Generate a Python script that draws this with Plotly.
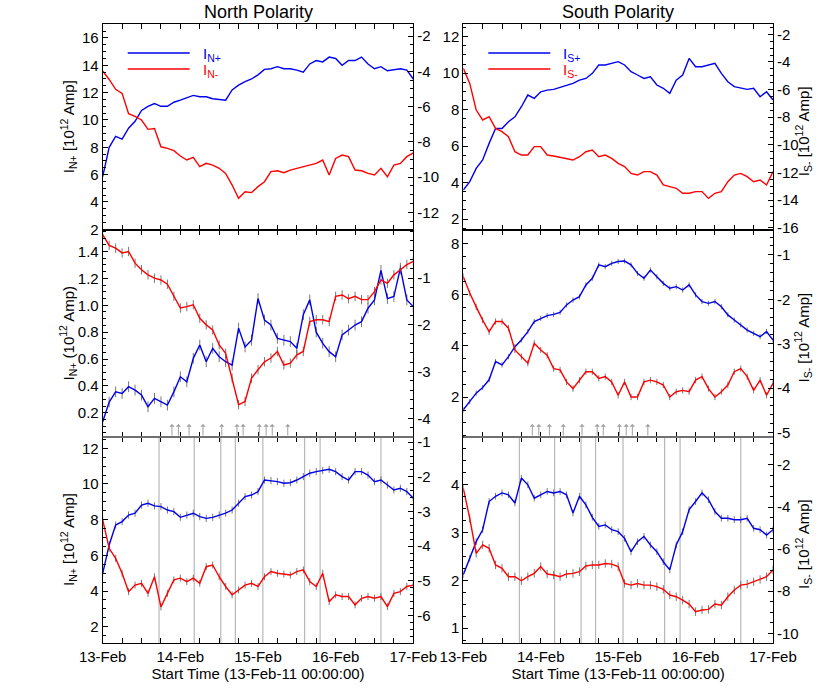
import plotly.graph_objects as go
from datetime import datetime, timedelta

# ---------------- data ----------------
HOURS = list(range(0, 97, 2))
START = datetime(2011, 2, 13)
TIMES = [START + timedelta(hours=h) for h in HOURS]

X_TICK_LABELS = ["13-Feb", "14-Feb", "15-Feb", "16-Feb", "17-Feb"]
X_TICK_DAYS = [0, 1, 2, 3, 4]

# Top row
N_TOP_POS = [5.85, 8.0, 8.8, 8.6, 9.4, 9.9, 10.7, 11.0,
             11.2, 11.0, 11.0, 11.3, 11.45, 11.6, 11.8, 11.7,
             11.7, 11.55, 11.5, 11.45, 12.2, 12.55, 12.8, 13.0,
             13.3, 13.7, 13.75, 13.9, 13.75, 13.75, 13.65, 13.5,
             14.1, 14.35, 14.25, 14.6, 14.5, 14.0, 14.35, 14.35,
             14.6, 14.1, 13.75, 13.9, 13.6, 13.65, 13.75, 13.65,
             13.0]
N_TOP_NEG = [-3.98, -4.46, -5.02, -5.25, -6.4, -6.55, -6.76, -7.29,
             -7.24, -8.28, -8.37, -8.5, -8.8, -9.03, -8.88, -9.41,
             -9.22, -9.32, -9.5, -9.79, -10.45, -11.2, -10.83, -10.88,
             -10.54, -10.26, -9.69, -9.64, -9.75, -9.6, -9.5, -9.41,
             -9.32, -9.22, -9.03, -9.88, -8.94, -8.75, -8.84, -9.6,
             -9.64, -9.79, -9.88, -9.5, -9.98, -9.32, -9.22, -8.84,
             -8.62]
S_TOP_POS = [3.59, 4.05, 4.78, 5.24, 6.15, 6.97, 6.97, 7.34,
             7.61, 8.16, 8.8, 8.62, 8.98, 9.07, 9.11, 9.22,
             9.35, 9.44, 9.62, 9.71, 9.99, 10.45, 10.45, 10.54,
             10.63, 10.45, 10.08, 9.9, 9.71, 9.8, 9.35, 9.17,
             8.89, 9.62, 9.9, 10.81, 10.35, 10.35, 10.45, 10.54,
             9.99, 9.53, 9.26, 9.17, 9.11, 9.17, 8.71, 8.98,
             8.53]
S_TOP_NEG = [-4.46, -5.55, -7.48, -8.2, -7.96, -8.81, -9.05, -9.41,
             -10.5, -10.74, -10.74, -10.13, -10.13, -10.74, -10.81, -10.91,
             -10.98, -11.1, -10.86, -10.5, -10.38, -10.86, -10.74, -10.98,
             -11.34, -11.58, -12.07, -12.19, -11.94, -11.94, -12.19, -12.91,
             -13.03, -13.15, -13.51, -13.51, -13.39, -13.39, -13.88, -13.51,
             -13.39, -12.67, -12.19, -12.07, -12.31, -12.67, -12.55, -12.91,
             -11.94]

# Middle row
N_MID_POS = [0.133, 0.28, 0.356, 0.344, 0.394, 0.369, 0.332, 0.245,
             0.307, 0.282, 0.257, 0.356, 0.468, 0.431, 0.605, 0.704,
             0.58, 0.68, 0.617, 0.58, 0.555, 0.83, 0.69, 0.74,
             1.05, 0.89, 0.853, 0.754, 0.74, 0.73, 0.68, 0.93,
             1.04, 0.80, 0.717, 0.655, 0.617, 0.78, 0.816, 0.853,
             0.878, 0.978, 1.04, 1.26, 1.05, 1.065, 1.276, 1.04,
             0.99]
N_MID_NEG = [-0.07, -0.3, -0.36, -0.46, -0.43, -0.68, -0.82, -0.93,
             -1.0, -1.04, -1.13, -1.39, -1.64, -1.61, -1.57, -1.86,
             -2.0, -2.11, -2.43, -2.61, -3.14, -3.71, -3.64, -3.14,
             -2.96, -2.79, -2.71, -2.57, -2.86, -2.82, -2.64, -2.57,
             -1.93, -1.89, -1.89, -1.93, -1.39, -1.36, -1.44, -1.39,
             -1.46, -1.46, -1.29, -1.04, -1.11, -0.93, -0.82, -0.71,
             -0.64]
S_MID_POS = [1.51, 1.83, 2.16, 2.38, 2.68, 3.39, 3.26, 3.58,
             3.97, 4.23, 4.56, 4.95, 5.08, 5.18, 5.23, 5.31,
             5.6, 5.79, 5.92, 6.38, 6.64, 7.16, 7.09, 7.22,
             7.29, 7.31, 7.16, 6.83, 6.64, 6.96, 6.7, 6.44,
             6.25, 6.31, 6.18, 6.38, 5.99, 5.73, 5.66, 5.73,
             5.53, 5.21, 5.01, 4.82, 4.62, 4.49, 4.36, 4.56,
             4.23]
S_MID_NEG = [-1.49, -1.86, -2.17, -2.47, -2.73, -2.5, -2.5, -2.65,
             -3.14, -3.29, -3.44, -2.99, -3.14, -3.26, -3.56, -3.59,
             -3.86, -4.01, -3.82, -3.63, -3.63, -3.78, -3.74, -3.86,
             -4.16, -3.86, -4.2, -4.2, -3.86, -3.82, -3.86, -3.93,
             -4.2, -4.08, -4.05, -4.08, -3.82, -3.74, -4.01, -4.2,
             -4.08, -3.93, -3.63, -3.56, -3.74, -4.05, -3.82, -4.16,
             -3.89]

# Bottom row
N_BOT_POS = [4.99, 6.58, 7.7, 7.89, 8.26, 8.36, 8.82, 8.92,
             8.77, 8.73, 8.54, 8.45, 8.13, 8.26, 8.36, 8.17,
             8.07, 8.13, 8.26, 8.36, 8.54, 8.92, 9.29, 9.38,
             9.57, 10.22, 10.19, 10.13, 10.04, 10.07, 10.22, 10.41,
             10.6, 10.69, 10.75, 10.82, 10.69, 10.41, 10.22, 10.69,
             10.69, 10.5, 10.13, 10.22, 9.94, 9.66, 9.76, 9.57,
             9.2]
N_BOT_NEG = [-3.24, -4.06, -4.35, -4.78, -5.31, -5.12, -5.07, -5.36,
             -4.88, -5.75, -5.36, -4.97, -4.92, -5.02, -4.92, -5.07,
             -4.59, -4.54, -4.88, -5.16, -5.4, -5.26, -5.12, -5.07,
             -5.16, -4.88, -4.73, -4.78, -4.8, -4.83, -4.73, -4.68,
             -5.02, -5.16, -4.78, -5.6, -5.4, -5.45, -5.45, -5.69,
             -5.5, -5.45, -5.5, -5.45, -5.74, -5.36, -5.31, -5.16,
             -5.12]
S_BOT_POS = [2.12, 2.46, 2.81, 3.06, 3.65, 3.76, 3.83, 3.79,
             3.62, 4.14, 4.0, 3.72, 3.79, 3.86, 3.83, 3.86,
             3.79, 3.41, 3.76, 3.58, 3.32, 3.13, 3.16, 3.06,
             3.02, 2.88, 2.6, 2.81, 2.92, 2.74, 2.6, 2.39,
             2.22, 2.74, 3.02, 3.48, 3.65, 3.83, 3.69, 3.44,
             3.3, 3.3, 3.27, 3.27, 3.3, 3.09, 3.06, 2.95,
             3.06]
S_BOT_NEG = [-3.11, -4.54, -6.2, -5.8, -5.96, -6.75, -6.91, -7.31,
             -7.31, -7.5, -7.31, -7.15, -6.83, -7.18, -7.23, -7.31,
             -7.18, -7.15, -7.07, -6.8, -6.75, -6.75, -6.68, -6.71,
             -6.83, -7.63, -7.71, -7.63, -7.71, -7.71, -7.78, -7.91,
             -8.18, -8.26, -8.42, -8.61, -8.97, -8.89, -8.86, -8.61,
             -8.66, -8.26, -7.94, -7.71, -7.66, -7.55, -7.44, -7.31,
             -6.99]

# Uncertainties (approximate half-lengths of error bars)
ERR_MID_N_POS, ERR_MID_N_NEG = 0.04, 0.1
ERR_MID_S_POS, ERR_MID_S_NEG = 0.1, 0.07
ERR_BOT_N_POS, ERR_BOT_N_NEG = 0.2, 0.1
ERR_BOT_S_POS, ERR_BOT_S_NEG = 0.07, 0.2

# Event markers (hours after start)
EVENT_HOURS = [17.4, 28.3, 36.5, 41.0, 49.5, 62.4, 67.2, 86.0]
ARROW_HOURS = [21.4, 23.4, 26.7, 31.0, 36.8, 41.5, 43.4, 48.4, 50.5, 52.4, 57.2]

# ---------------- layout helpers ----------------
W, H = 822, 694
def fx(p): return p / W
def fy(p): return 1 - p / H

COL_X = [(102.7, 413.3), (463.3, 773.0)]
ROW_Y = [(24.3, 230.0), (230.0, 437.0), (437.0, 643.0)]

BLUE = "#0000ee"
RED = "#ff0000"
FONT = "Liberation Sans, Arial, sans-serif"
FS = 15

panels = [
    dict(pos=N_TOP_POS, neg=N_TOP_NEG, lr=[1.95, 17.0], rr=[-13.0, -1.33],
         lt=[2, 4, 6, 8, 10, 12, 14, 16], rt=[-12, -10, -8, -6, -4, -2],
         lm=0.5, rm=0.5, pe=None, ne=None, fmt="{:g}"),
    dict(pos=S_TOP_POS, neg=S_TOP_NEG, lr=[1.4, 12.68], rr=[-16.17, -1.27],
         lt=[2, 4, 6, 8, 10, 12], rt=[-16, -14, -12, -10, -8, -6, -4, -2],
         lm=0.5, rm=0.5, pe=None, ne=None, fmt="{:g}"),
    dict(pos=N_MID_POS, neg=N_MID_NEG, lr=[0.02, 1.56], rr=[-4.4, 0.03],
         lt=[0.2, 0.4, 0.6, 0.8, 1.0, 1.2, 1.4], rt=[-4, -3, -2, -1],
         lm=0.05, rm=0.2, pe=ERR_MID_N_POS, ne=ERR_MID_N_NEG, fmt="{:.1f}"),
    dict(pos=S_MID_POS, neg=S_MID_NEG, lr=[0.45, 8.52], rr=[-5.1, -0.44],
         lt=[2, 4, 6, 8], rt=[-5, -4, -3, -2, -1],
         lm=0.5, rm=0.2, pe=ERR_MID_S_POS, ne=ERR_MID_S_NEG, fmt="{:g}"),
    dict(pos=N_BOT_POS, neg=N_BOT_NEG, lr=[1.09, 12.63], rr=[-6.79, -0.85],
         lt=[2, 4, 6, 8, 10, 12], rt=[-6, -5, -4, -3, -2, -1],
         lm=0.5, rm=0.2, pe=ERR_BOT_N_POS, ne=ERR_BOT_N_NEG, fmt="{:g}"),
    dict(pos=S_BOT_POS, neg=S_BOT_NEG, lr=[0.69, 5.0], rr=[-10.46, -0.67],
         lt=[1, 2, 3, 4], rt=[-10, -8, -6, -4, -2],
         lm=0.25, rm=0.5, pe=ERR_BOT_S_POS, ne=ERR_BOT_S_NEG, fmt="{:g}"),
]

fig = go.Figure()
layout = {}
shapes = []
annotations = []

x_range = [START, START + timedelta(days=4)]
x_tickvals = [START + timedelta(days=d) for d in X_TICK_DAYS]

def ref(prefix, n):
    return prefix if n == 1 else f"{prefix}{n}"

for k, p in enumerate(panels):
    row, col = divmod(k, 2)
    xn, yl, yr = k + 1, 2 * k + 1, 2 * k + 2
    xref, ylref, yrref = ref("x", xn), ref("y", yl), ref("y", yr)
    xd = [fx(COL_X[col][0]), fx(COL_X[col][1])]
    yd = [fy(ROW_Y[row][1]), fy(ROW_Y[row][0])]

    common_tick = dict(ticks="inside", ticklen=5, tickcolor="black", tickwidth=1,
                       showgrid=False, zeroline=False, showline=True,
                       linecolor="black", linewidth=1, automargin=False,
                       tickfont=dict(family=FONT, size=FS, color="black"))

    xa = dict(domain=xd, anchor=ylref, type="date", range=x_range,
              tickvals=x_tickvals, ticktext=X_TICK_LABELS,
              showticklabels=(row == 2), mirror="allticks",
              minor=dict(ticks="inside", ticklen=3, dtick=6 * 3600 * 1000,
                         tick0=START, tickcolor="black", showgrid=False),
              **common_tick)
    if row == 2:
        xa["title"] = dict(text="Start Time (13-Feb-11 00:00:00)",
                           font=dict(family=FONT, size=FS, color="black"),
                           standoff=0)
    layout["xaxis" if xn == 1 else f"xaxis{xn}"] = xa

    ya = dict(domain=yd, anchor=xref, range=p["lr"], tickvals=p["lt"],
              ticktext=[p["fmt"].format(v) for v in p["lt"]], side="left",
              minor=dict(ticks="inside", ticklen=3, dtick=p["lm"], tick0=0,
                         tickcolor="black", showgrid=False),
              **common_tick)
    layout["yaxis" if yl == 1 else f"yaxis{yl}"] = ya

    yb = dict(overlaying=ylref, anchor=xref, side="right", range=p["rr"],
              tickvals=p["rt"], ticktext=[str(v) for v in p["rt"]],
              minor=dict(ticks="inside", ticklen=3, dtick=p["rm"], tick0=0,
                         tickcolor="black", showgrid=False),
              **common_tick)
    layout[f"yaxis{yr}"] = yb

    pos_kw = dict(x=TIMES, y=p["pos"], xaxis=xref, yaxis=ylref, mode="lines",
                  line=dict(color=BLUE, width=1.4), showlegend=False)
    neg_kw = dict(x=TIMES, y=p["neg"], xaxis=xref, yaxis=yrref, mode="lines",
                  line=dict(color=RED, width=1.4), showlegend=False)
    if p["pe"] is not None:
        pos_kw["error_y"] = dict(type="constant", value=p["pe"], color="#555",
                                 thickness=0.8, width=0)
        neg_kw["error_y"] = dict(type="constant", value=p["ne"], color="#555",
                                 thickness=0.8, width=0)
    fig.add_trace(go.Scatter(**pos_kw))
    fig.add_trace(go.Scatter(**neg_kw))

    # event lines in bottom row
    if row == 2:
        for h in EVENT_HOURS:
            t = START + timedelta(hours=h)
            shapes.append(dict(type="line", xref=xref, yref=f"{ylref} domain",
                               x0=t, x1=t, y0=0, y1=1, layer="below",
                               line=dict(color="#b8b8b8", width=1.2)))
    # arrows in middle row
    if row == 1:
        for h in ARROW_HOURS:
            t = START + timedelta(hours=h)
            annotations.append(dict(x=t, xref=xref, y=fy(424), yref="paper",
                                    ax=0, ay=13, showarrow=True, text="",
                                    arrowhead=1, arrowsize=0.9, arrowwidth=1,
                                    arrowcolor="#a0a0a0"))

# gray separator between middle and bottom rows
for c in range(2):
    shapes.append(dict(type="line", xref="paper", yref="paper",
                       x0=fx(COL_X[c][0]), x1=fx(COL_X[c][1]),
                       y0=fy(437), y1=fy(437), layer="above",
                       line=dict(color="#707070", width=2)))

# legends
legend_items = [
    (0, "I<sub>N+</sub>", BLUE, 53), (0, "I<sub>N-</sub>", RED, 69),
    (1, "I<sub>S+</sub>", BLUE, 53), (1, "I<sub>S-</sub>", RED, 69),
]
for c, txt, colr, ypx in legend_items:
    x0 = COL_X[c][0] + 25
    shapes.append(dict(type="line", xref="paper", yref="paper",
                       x0=fx(x0), x1=fx(x0 + 62), y0=fy(ypx), y1=fy(ypx),
                       line=dict(color=colr, width=1.3)))
    annotations.append(dict(x=fx(x0 + 73), y=fy(ypx + 1), xref="paper", yref="paper",
                            text=txt, showarrow=False, xanchor="left", yanchor="middle",
                            font=dict(family=FONT, size=15, color=colr)))

# titles
for c, txt in enumerate(["North Polarity", "South Polarity"]):
    annotations.append(dict(x=fx((COL_X[c][0] + COL_X[c][1]) / 2), y=fy(12),
                            xref="paper", yref="paper", text=txt, showarrow=False,
                            xanchor="center", yanchor="middle",
                            font=dict(family=FONT, size=18, color="black")))

# y-axis titles
left_titles = ["I<sub>N+</sub> [10<sup>12</sup> Amp]",
               "I<sub>N+</sub> (10<sup>12</sup> Amp)",
               "I<sub>N+</sub> [10<sup>12</sup> Amp]"]
for r, txt in enumerate(left_titles):
    annotations.append(dict(x=fx(68), y=fy((ROW_Y[r][0] + ROW_Y[r][1]) / 2),
                            xref="paper", yref="paper", text=txt, showarrow=False,
                            textangle=-90, xanchor="center", yanchor="middle",
                            font=dict(family=FONT, size=FS, color="black")))
    annotations.append(dict(x=fx(803), y=fy((ROW_Y[r][0] + ROW_Y[r][1]) / 2 + 4),
                            xref="paper", yref="paper",
                            text="I<sub>S-</sub> [10<sup>12</sup> Amp]", showarrow=False,
                            textangle=-90, xanchor="center", yanchor="middle",
                            font=dict(family=FONT, size=FS, color="black")))

fig.update_layout(**layout)
fig.update_layout(width=W, height=H, margin=dict(l=0, r=0, t=0, b=0),
                  paper_bgcolor="white", plot_bgcolor="white",
                  shapes=shapes, annotations=annotations, showlegend=False,
                  font=dict(family=FONT, size=FS, color="black"))

# remove the default 8 px page margin so the figure sits at the window origin
fig.write_html("out.html",
               config={"displayModeBar": False},
               post_script="document.body.style.margin='0';"
                           "document.body.style.overflow='hidden';")
